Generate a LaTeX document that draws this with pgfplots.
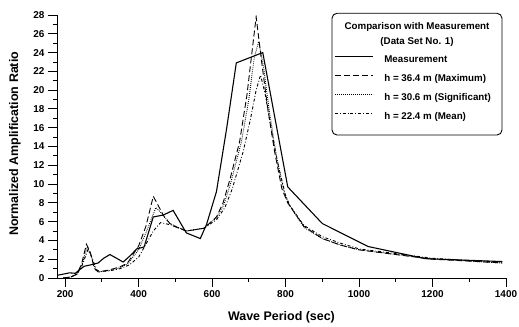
\documentclass[border=0pt]{standalone}
\usepackage{fontspec}
\setmainfont{Liberation Sans}
\usepackage{pgfplots}
\pgfplotsset{compat=1.18}
\begin{document}
\begin{tikzpicture}
\useasboundingbox (0,0) rectangle (519bp,327bp);
\begin{axis}[
  at={(57bp,49bp)}, anchor=south west,
  scale only axis, width=449bp, height=263bp,
  xmin=178, xmax=1400, ymin=0, ymax=28,
  axis lines*=left,
  xtick={200,400,...,1400}, ytick={0,2,...,28},
  minor x tick num=1, minor y tick num=1,
  tick align=outside,
  major tick length=9bp, minor tick length=4bp,
  every tick/.style={black, line width=0.9pt},
  axis line style={line width=1.0pt},
  ticklabel style={font=\bfseries\fontsize{10}{12}\selectfont},
  /pgf/number format/assume math mode=true,
  /pgf/number format/1000 sep={},
  xlabel={Wave Period (sec)},
  ylabel={Normalized Amplification Ratio},
  label style={font=\bfseries\fontsize{12.5}{14}\selectfont},
  xlabel style={at={(axis description cs:0.5,-0.148)}, anchor=center},
  ylabel style={at={(axis description cs:-0.0935,0.51)}, anchor=center},
  legend image code/.code={\draw[#1] (0bp,3.6bp) -- (38bp,3.6bp);},
  legend cell align=left,
  legend style={at={(axis description cs:0.617,0.845)}, anchor=north west,
    draw=none, fill=none, inner sep=0pt, row sep=9.8bp, column sep=11bp,
    nodes={inner sep=0pt, text height=7bp, text depth=2bp,
      font=\bfseries\fontsize{9.8}{11}\selectfont}},
]
\addplot[black, line width=1.1pt] coordinates {
(180,0.3) (200,0.45) (212,0.55) (228,0.5) (240,0.9) (252,1.25) (270,1.4)
(290,1.6) (305,2.1) (322,2.5) (340,2.1) (358,1.7) (378,2.4) (395,3.1)
(415,3.3) (440,6.5) (467,6.7) (494,7.2) (530,4.8) (568,4.2) (585,5.7)
(612,9.2) (640,16.0) (666,22.9) (738,24.0) (806,9.7) (900,5.8) (1025,3.35)
(1180,2.06) (1390,1.75)};
\addlegendentry{Measurement}
\addplot[black, line width=0.9pt, dash pattern=on 6bp off 3bp] coordinates {
(195,0) (215,0.1) (232,0.4) (245,1.5) (258,3.6) (268,2.8) (280,1.0)
(290,0.65) (320,0.85) (350,1.2) (370,1.6) (400,3.4) (420,5.5) (440,8.7)
(455,7.6) (470,6.5) (490,5.6) (530,5.0) (578,5.3) (612,6.5) (630,8.0)
(648,10.4) (675,14.5) (695,19.5) (710,24.5) (720,27.8) (735,23.0)
(750,18.5) (770,13.5) (790,9.5) (806,8.0) (850,5.5) (900,4.2) (950,3.5)
(1000,3.0) (1100,2.5) (1200,2.0) (1300,1.8) (1390,1.6)};
\addlegendentry{h = 36.4 m (Maximum)}
\addplot[black, line width=0.9pt, dash pattern=on 0.8bp off 1.2bp] coordinates {
(195,0) (215,0.1) (232,0.4) (245,1.3) (260,3.3) (270,2.5) (282,0.9)
(292,0.65) (320,0.8) (350,1.1) (370,1.5) (400,3.0) (420,4.8) (447,7.5)
(465,6.8) (485,5.8) (530,5.0) (578,5.3) (612,6.4) (632,7.8) (650,10.0)
(680,14.5) (700,19.0) (715,23.5) (727,25.2) (740,22.5) (755,18.0)
(775,13.0) (795,9.3) (808,7.9) (850,5.4) (900,4.2) (950,3.5) (1000,3.0)
(1100,2.5) (1200,2.05) (1300,1.8) (1390,1.6)};
\addlegendentry{h = 30.6 m (Significant)}
\addplot[black, line width=0.9pt, dash pattern=on 3bp off 2bp on 0.8bp off 2bp] coordinates {
(195,0) (215,0.1) (232,0.4) (245,1.2) (262,3.0) (272,2.3) (285,0.9)
(295,0.7) (320,0.75) (350,1.0) (375,1.4) (400,2.2) (420,3.6) (440,5.0)
(460,5.9) (494,5.6) (530,5.0) (578,5.3) (612,6.2) (635,7.5) (655,9.5)
(685,13.5) (705,17.0) (720,20.0) (732,21.6) (745,19.5) (760,16.0)
(780,12.0) (800,8.8) (812,7.7) (850,5.6) (900,4.4) (950,3.7) (1000,3.1)
(1100,2.6) (1200,2.1) (1300,1.85) (1390,1.7)};
\addlegendentry{h = 22.4 m (Mean)}
\end{axis}
\draw[rounded corners=5bp, line width=0.9pt] (332bp,192bp) rectangle (502bp,313.7bp);
\node[font=\bfseries\fontsize{9.8}{11}\selectfont, anchor=center] at (417bp,300.3bp) {Comparison with Measurement};
\node[font=\bfseries\fontsize{9.8}{11}\selectfont, anchor=center] at (417bp,285.3bp) {(Data Set No. 1)};
\end{tikzpicture}
\end{document}
